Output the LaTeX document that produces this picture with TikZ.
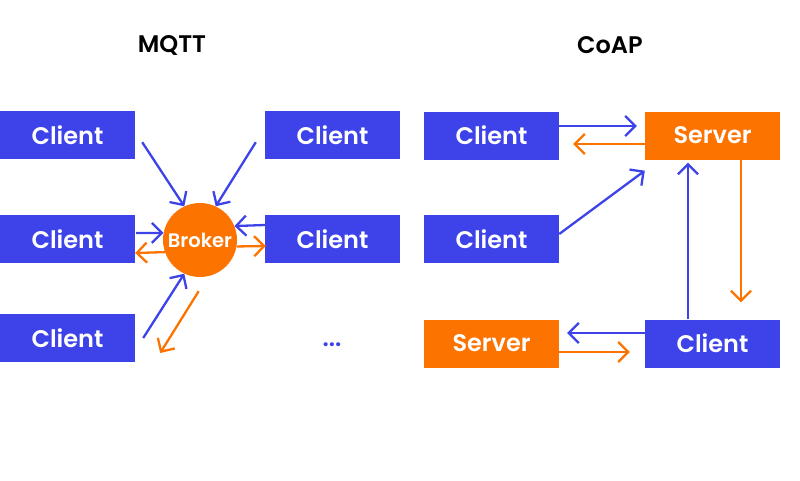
\documentclass[tikz,border=0pt]{standalone}
\usepackage{fontspec}
\setmainfont{Poppins}[BoldFont={Poppins SemiBold}]
\usetikzlibrary{arrows.meta}
\definecolor{iotblue}{RGB}{61,67,233}
\definecolor{iotorange}{RGB}{252,115,0}

\begin{document}
\begin{tikzpicture}[x=1pt, y=-1pt, >={Straight Barb[length=10pt,width=20pt]},
  box/.style={rectangle, minimum width=135pt, minimum height=48pt, inner sep=0pt,
    text=white, font=\fontsize{24}{28}\selectfont\bfseries},
  clientbox/.style={box, fill=iotblue},
  serverbox/.style={box, fill=iotorange},
  title/.style={font=\fontsize{24}{28}\selectfont\bfseries},
  bluearr/.style={->, iotblue, line width=2.3pt},
  orangearr/.style={->, iotorange, line width=2.3pt}]
  \useasboundingbox (0,0) rectangle (800,480);
  % Titles
  \node[title] (mqtt) at (172,45) {MQTT};
  \node[title] (coap) at (610,45) {CoAP};
  % MQTT side
  \node[clientbox] (cl1) at (67.5,135) {Client};
  \node[clientbox] (cl2) at (67.5,239) {Client};
  \node[clientbox] (cl3) at (67.5,338) {Client};
  \node[clientbox] (cr1) at (332.5,135) {Client};
  \node[clientbox] (cr2) at (332.5,239) {Client};
  \node[iotblue, font=\fontsize{24}{28}\selectfont\bfseries] (dots) at (332,345) {...};
  \node[circle, fill=iotorange, minimum size=74pt, inner sep=0pt, text=white,
    font=\fontsize{19.5}{22}\selectfont\bfseries] (broker) at (200,240) {Broker};
  % MQTT arrows
  \draw[bluearr] ([shift={(7,-17)}]cl1.south east) -- (broker.115);
  \draw[bluearr] ([shift={(-9,-17)}]cr1.south west) -- (broker.65);
  \draw[bluearr] ([shift={(1,-6)}]cl2.east) -- (broker.169);
  \draw[orangearr] (broker.199) -- ([shift={(0,14)}]cl2.east);
  \draw[bluearr] ([shift={(0,-14)}]cr2.west) -- (broker.22);
  \draw[orangearr] (broker.350) -- ([shift={(1,7)}]cr2.west);
  \draw[bluearr] ([shift={(8,0)}]cl3.east) -- (broker.245);
  \draw[orangearr] ([shift={(0,14)}]broker.268) -- ([shift={(25,15)}]cl3.east);
  % CoAP side
  \node[clientbox] (cc1) at (491.5,135.5) {Client};
  \node[serverbox] (sv1) at (712.5,135.5) {Server};
  \node[clientbox] (cc2) at (491.5,239) {Client};
  \node[serverbox] (sv2) at (491.5,343.5) {Server};
  \node[clientbox] (cc3) at (712.5,343.5) {Client};
  % CoAP arrows
  \draw[bluearr] ([shift={(0,-9.5)}]cc1.east) -- ([shift={(-8,-9.5)}]sv1.west);
  \draw[orangearr] ([shift={(0,8.5)}]sv1.west) -- ([shift={(14,8.5)}]cc1.east);
  \draw[bluearr] ([shift={(0,-5)}]cc2.east) -- ([shift={(0,11)}]sv1.south west);
  \draw[bluearr] ([shift={(-24.5,0)}]cc3.north) -- ([shift={(-24.5,3)}]sv1.south);
  \draw[orangearr] ([shift={(28.5,0)}]sv1.south) -- ([shift={(28.5,-17)}]cc3.north);
  \draw[bluearr] ([shift={(0,-10.5)}]cc3.west) -- ([shift={(8,-10.5)}]sv2.east);
  \draw[orangearr] ([shift={(0,8.5)}]sv2.east) -- ([shift={(-15,8.5)}]cc3.west);
\end{tikzpicture}
\end{document}
